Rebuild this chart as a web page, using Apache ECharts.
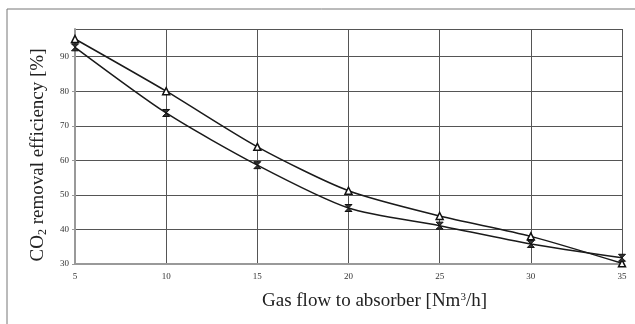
<!DOCTYPE html>
<html>
<head>
<meta charset="utf-8">
<script src="https://cdn.jsdelivr.net/npm/echarts@6/dist/echarts.min.js"></script>
<style>
  html, body { margin: 0; padding: 0; background: #fff; }
  #chart { width: 635px; height: 324px; }
</style>
</head>
<body>
<div id="chart"></div>
<script>
var myChart = echarts.init(document.getElementById('chart'));

// flow values on the x axis [Nm3/h]
var flow = [5, 10, 15, 20, 25, 30, 35];
// removal efficiency, triangle markers
var effTriangle = [95.1, 80.0, 63.9, 51.2, 43.9, 38.0, 30.2];
// removal efficiency, cross markers
var effCross = [92.7, 73.7, 58.6, 46.2, 41.1, 35.8, 31.8];

function pairs(xs, ys) {
    return xs.map(function (x, i) { return [x, ys[i]]; });
}

var serif = '"Liberation Serif", "DejaVu Serif", serif';

var option = {
    backgroundColor: '#fff',
    animation: false,
    graphic: [
        // frame round the chart
        {
            type: 'polyline',
            shape: { points: [[7, 330], [7, 9], [640, 9]] },
            style: { stroke: '#777', lineWidth: 1, fill: null }
        }
    ],
    grid: { left: 75, top: 29, right: 13, bottom: 60 },
    xAxis: {
        type: 'value',
        min: 5,
        max: 35,
        interval: 5,
        name: 'Gas flow to absorber [Nm{sup|3}/h]',
        nameLocation: 'middle',
        nameGap: 28,
        nameTextStyle: {
            fontFamily: serif,
            fontSize: 19,
            color: '#222',
            padding: [0, 0, 0, 52],
            rich: {
                sup: { fontFamily: serif, fontSize: 11, color: '#222', padding: [0, 0, 8, 0] }
            }
        },
        axisLine: { show: true, lineStyle: { color: '#999', width: 2 } },
        axisTick: { show: false },
        axisLabel: { fontFamily: serif, fontSize: 9, color: '#333', margin: 8 },
        splitLine: { show: true, lineStyle: { color: '#555', width: 1 } }
    },
    yAxis: {
        type: 'value',
        min: 30,
        max: 98,
        interval: 10,
        name: 'CO{sub|2} removal efficiency [%]',
        nameLocation: 'middle',
        nameGap: 20,
        nameTextStyle: {
            fontFamily: serif,
            fontSize: 19,
            color: '#222',
            padding: [0, 17, 0, 0],
            rich: {
                sub: { fontFamily: serif, fontSize: 12, color: '#222', padding: [10, 0, 0, 0] }
            }
        },
        axisLine: { show: true, lineStyle: { color: '#999', width: 2 } },
        axisTick: { show: true, length: 3, lineStyle: { color: '#999' } },
        axisLabel: { fontFamily: serif, fontSize: 9, color: '#333', margin: 6, showMaxLabel: false },
        splitLine: { show: true, lineStyle: { color: '#555', width: 1 } }
    },
    series: [
        {
            type: 'line',
            data: pairs(flow, effTriangle),
            smooth: 0.25,
            symbol: 'triangle',
            symbolSize: 7,
            lineStyle: { color: '#1a1a1a', width: 1.5 },
            itemStyle: { color: '#fff', borderColor: '#111', borderWidth: 1.5 }
        },
        {
            type: 'line',
            data: pairs(flow, effCross),
            smooth: 0.25,
            symbol: 'path://M0,0H10L0,10H10Z',
            symbolSize: 7,
            lineStyle: { color: '#1a1a1a', width: 1.5 },
            itemStyle: { color: '#333', borderColor: '#111', borderWidth: 1 }
        }
    ]
};

myChart.setOption(option);

window.addEventListener('resize', function () {
    myChart.resize();
});
</script>
</body>
</html>
